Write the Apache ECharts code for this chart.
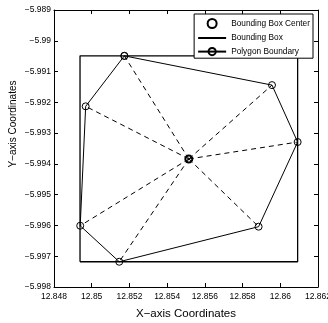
<!DOCTYPE html>
<html>
<head>
<meta charset="utf-8">
<script src="https://cdn.jsdelivr.net/npm/echarts@6/dist/echarts.min.js"></script>
<style>
html, body { margin: 0; padding: 0; background: #fff; }
#chart { width: 328px; height: 323px; }
</style>
</head>
<body>
<div id="chart"></div>
<script>
// polygon vertices, in drawing order (closed back to the first)
var polyX = [12.85173, 12.85956, 12.86092, 12.85885, 12.85146, 12.84939, 12.84968];
var polyY = [-5.99049, -5.99144, -5.99329, -5.99604, -5.99718, -5.99601, -5.99213];
// bounding box extents
var boxX = [12.84938, 12.86092];
var boxY = [-5.99718, -5.99049];
// bounding box center
var centerX = 12.85515;
var centerY = -5.99384;

var font = '"Liberation Sans", Arial, sans-serif';
var hollow = 'rgba(255,255,255,0)';

function fmt(v) {
    return String(parseFloat(v.toFixed(3))).replace('-', '\u2212');
}

var polyData = polyX.map(function (x, i) { return [x, polyY[i]]; });
polyData.push(polyData[0]);

var boxData = [
    [boxX[0], boxY[0]], [boxX[1], boxY[0]], [boxX[1], boxY[1]],
    [boxX[0], boxY[1]], [boxX[0], boxY[0]]
];

var spokes = polyX.map(function (x, i) {
    return {
        type: 'line',
        name: 'spoke' + i,
        data: [[centerX, centerY], [x, polyY[i]]],
        symbol: 'none',
        lineStyle: { color: '#000', width: 1, type: [5, 4] },
        z: 1,
        silent: true
    };
});

var chart = echarts.init(document.getElementById('chart'));
var option = {
    animation: false,
    grid: { left: 54, right: 10, top: 10, bottom: 36, outerBoundsMode: 'none', containLabel: false },
    legend: {
        data: [
            'Bounding Box Center',
            { name: 'Bounding Box', itemStyle: { color: 'rgba(0,0,0,0)', borderColor: 'rgba(0,0,0,0)', borderWidth: 0 } },
            'Polygon Boundary'
        ],
        orient: 'vertical',
        right: 15,
        top: 14,
        itemWidth: 28,
        itemHeight: 9,
        itemGap: 4.5,
        padding: [4, 3, 2, 3],
        borderColor: '#000',
        borderWidth: 1,
        borderRadius: 0,
        backgroundColor: '#fff',
        textStyle: { fontFamily: font, fontSize: 8.3, lineHeight: 9, color: '#000' }
    },
    graphic: [{
        type: 'text',
        x: 13,
        y: 124,
        rotation: Math.PI / 2,
        style: {
            text: 'Y\u2212axis Coordinates',
            font: '10px ' + font,
            fill: '#000',
            align: 'center',
            verticalAlign: 'middle'
        }
    }],
    xAxis: [{
        type: 'value',
        min: 12.848, max: 12.862, interval: 0.002,
        name: 'X\u2212axis Coordinates',
        nameLocation: 'middle',
        nameGap: 21,
        nameTextStyle: { fontFamily: font, fontSize: 11.5, color: '#000' },
        axisLine: { lineStyle: { color: '#000' } },
        axisTick: { inside: true, length: 4, lineStyle: { color: '#000' } },
        axisLabel: { formatter: fmt, fontFamily: font, fontSize: 8.5, color: '#000', margin: 5, showMaxLabel: true, hideOverlap: false },
        splitLine: { show: false }
    }, {
        type: 'value', position: 'top',
        min: 12.848, max: 12.862, interval: 0.002,
        axisLine: { lineStyle: { color: '#000' } },
        axisTick: { inside: true, length: 4, lineStyle: { color: '#000' } },
        axisLabel: { show: false },
        splitLine: { show: false }
    }],
    yAxis: [{
        type: 'value',
        min: -5.998, max: -5.989, interval: 0.001,
        axisLine: { lineStyle: { color: '#000' } },
        axisTick: { inside: true, length: 4, lineStyle: { color: '#000' } },
        axisLabel: { formatter: fmt, fontFamily: font, fontSize: 8.5, color: '#000', margin: 3 },
        splitLine: { show: false }
    }, {
        type: 'value', position: 'right',
        min: -5.998, max: -5.989, interval: 0.001,
        axisLine: { lineStyle: { color: '#000' } },
        axisTick: { inside: true, length: 4, lineStyle: { color: '#000' } },
        axisLabel: { show: false },
        splitLine: { show: false }
    }],
    series: spokes.concat([{
        type: 'line',
        name: 'Bounding Box',
        data: boxData,
        symbol: 'none',
        lineStyle: { color: '#000', width: 1.3 },
        itemStyle: { color: '#000' },
        z: 2
    }, {
        type: 'line',
        name: 'Polygon Boundary',
        data: polyData,
        symbol: 'circle',
        symbolSize: 7,
        lineStyle: { color: '#000', width: 1 },
        itemStyle: { color: hollow, borderColor: '#000', borderWidth: 1 },
        z: 3
    }, {
        type: 'scatter',
        name: 'Bounding Box Center',
        data: [[centerX, centerY]],
        symbol: 'circle',
        symbolSize: 7,
        itemStyle: { color: hollow, borderColor: '#000', borderWidth: 2, opacity: 1 },
        z: 4
    }])
};
chart.setOption(option);
</script>
</body>
</html>
